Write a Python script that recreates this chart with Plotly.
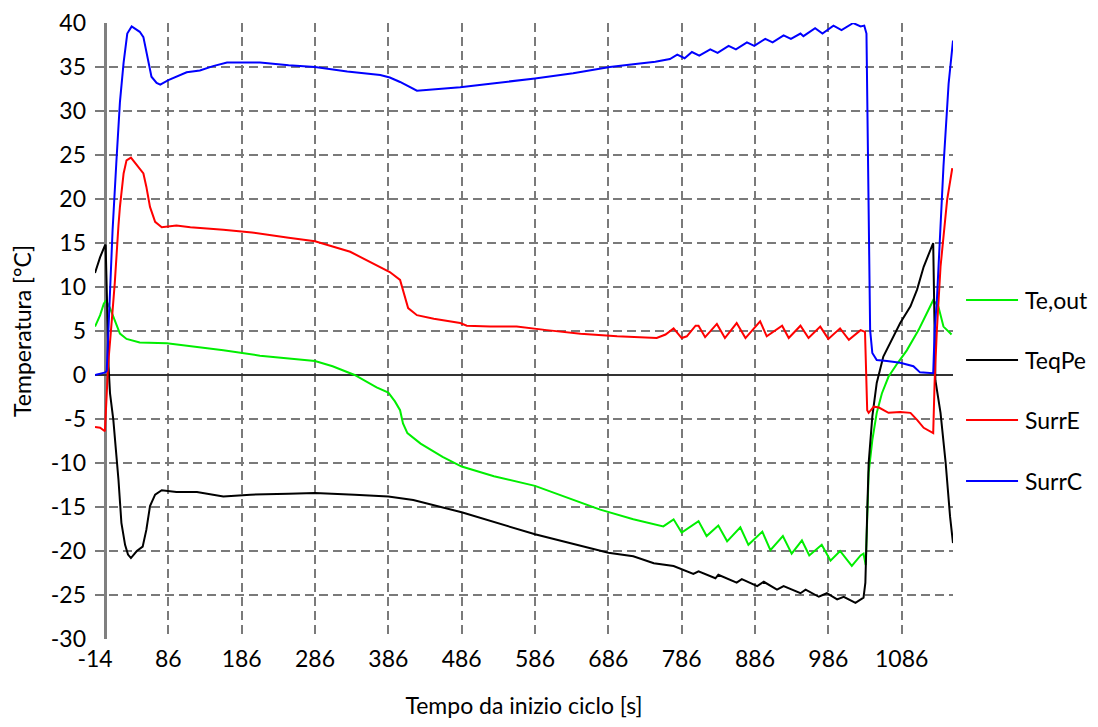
import plotly.graph_objects as go

# ---- data ----
t_surrc = [-14, -5, 0, 2, 4, 7, 10, 15, 20, 25, 30, 36, 47, 52, 58, 63, 70, 75, 86, 100, 111, 129, 147, 166, 211, 250, 286, 330, 375, 388, 402, 425, 443, 484, 525, 586, 638, 688, 720, 750, 770, 780, 790, 800, 810, 825, 835, 850, 860, 875, 885, 900, 910, 925, 935, 948, 952, 968, 978, 993, 1004, 1020, 1030, 1035, 1038, 1041, 1043, 1046, 1052, 1066, 1084, 1102, 1111, 1129, 1131, 1134, 1143, 1150, 1156]
v_surrc = [0.0, 0.2, 0.3, 0.5, 5, 11, 16.5, 24, 31, 35.5, 38.8, 39.6, 39.0, 38.4, 35.8, 33.9, 33.2, 33.0, 33.5, 34.0, 34.4, 34.6, 35.1, 35.5, 35.5, 35.2, 35.0, 34.5, 34.1, 33.8, 33.3, 32.3, 32.4, 32.7, 33.1, 33.7, 34.3, 35.0, 35.3, 35.6, 35.9, 36.4, 36.0, 36.7, 36.3, 37.0, 36.6, 37.4, 37.0, 37.8, 37.4, 38.2, 37.8, 38.6, 38.2, 38.8, 38.5, 39.4, 38.8, 39.7, 39.2, 40.0, 39.6, 39.7, 38.8, 19.9, 5.1, 2.5, 1.7, 1.6, 1.4, 1.0, 0.3, 0.2, 5.1, 8.5, 23.7, 33.1, 38.0]

t_surre = [-14, -7, -0.5, 0.5, 2, 4, 9, 13, 18, 20, 25, 29, 35, 43, 52, 56, 61, 68, 77, 97, 116, 161, 200, 250, 286, 334, 375, 388, 402, 407, 413, 425, 448, 484, 493, 525, 561, 602, 648, 698, 752, 764, 775, 786, 793, 805, 809, 818, 834, 845, 861, 873, 893, 902, 923, 932, 948, 959, 975, 986, 1002, 1014, 1030, 1036, 1039, 1041, 1048, 1055, 1068, 1084, 1098, 1107, 1116, 1129, 1131, 1134, 1139, 1148, 1155]
v_surre = [-5.9, -6.0, -6.4, -4.5, -1.5, 1.3, 6.3, 10.5, 17.0, 19.1, 22.9, 24.4, 24.7, 23.8, 22.9, 21.4, 19.1, 17.4, 16.8, 17.0, 16.8, 16.5, 16.2, 15.6, 15.2, 14.0, 12.2, 11.7, 10.8, 9.3, 7.6, 6.8, 6.4, 5.9, 5.6, 5.5, 5.5, 5.1, 4.7, 4.4, 4.2, 4.6, 5.3, 4.2, 4.4, 5.6, 5.6, 4.3, 5.8, 4.2, 5.9, 4.2, 6.1, 4.4, 5.6, 4.2, 5.6, 4.2, 5.5, 4.1, 5.3, 4.0, 5.1, 4.9, -4.0, -4.3, -3.6, -3.7, -4.3, -4.2, -4.3, -5.1, -6.0, -6.6, -0.6, 5.1, 12.3, 19.9, 23.5]

t_teout = [-14, -7, -2, 1, 6.5, 13, 20, 29, 47, 84, 116, 161, 211, 250, 286, 310, 340, 370, 386, 395, 402, 406, 412, 430, 460, 486, 530, 586, 630, 675, 720, 748, 761, 775, 786, 809, 820, 836, 848, 866, 877, 896, 907, 924, 936, 950, 960, 977, 989, 1002, 1018, 1030, 1034, 1037, 1039, 1041, 1046, 1052, 1059, 1068, 1080, 1093, 1109, 1120, 1129, 1136, 1143, 1154]
v_teout = [5.5, 6.8, 8.1, 8.5, 7.6, 6.3, 4.7, 4.1, 3.7, 3.6, 3.3, 2.8, 2.2, 1.9, 1.6, 1.0, 0.0, -1.4, -2.0, -3.0, -4.0, -5.5, -6.6, -7.8, -9.3, -10.4, -11.5, -12.6, -13.9, -15.3, -16.4, -17.0, -17.2, -16.4, -17.9, -16.6, -18.3, -17.1, -18.9, -17.3, -19.3, -17.8, -19.9, -18.3, -20.3, -18.8, -20.5, -19.3, -21.1, -20.0, -21.7, -20.5, -20.3, -21.6, -16.1, -11.1, -7.4, -4.3, -2.1, -0.2, 1.3, 2.8, 5.1, 7.0, 8.5, 7.8, 5.5, 4.6]

t_teqpe = [-14, -7, -0.5, 0.5, 3, 4.5, 6.5, 11, 14.5, 18, 22, 27, 31, 35, 43, 51, 56, 61, 68, 77, 97, 125, 161, 198, 250, 286, 340, 386, 420, 486, 586, 686, 720, 748, 775, 802, 809, 832, 836, 861, 868, 889, 898, 916, 925, 948, 955, 973, 984, 998, 1007, 1023, 1034, 1036.5, 1039, 1041, 1046, 1052, 1061, 1073, 1080, 1084, 1098, 1107, 1116, 1129, 1132, 1139, 1146, 1152, 1156]
v_teqpe = [11.6, 13.4, 14.7, 14.8, 6.3, 1.0, -2.1, -5.1, -8.5, -11.9, -16.8, -19.3, -20.4, -20.8, -20.0, -19.5, -17.6, -14.9, -13.6, -13.1, -13.3, -13.3, -13.8, -13.6, -13.5, -13.4, -13.6, -13.8, -14.2, -15.6, -18.1, -20.2, -20.6, -21.4, -21.7, -22.6, -22.3, -23.1, -22.7, -23.6, -23.2, -24.0, -23.5, -24.4, -24.0, -24.8, -24.4, -25.2, -24.8, -25.5, -25.2, -25.9, -25.3, -23.6, -15.7, -10.0, -4.7, -0.9, 2.1, 4.0, 5.1, 5.9, 7.8, 9.7, 12.3, 15.0, -0.6, -4.3, -10.0, -16.1, -19.1]

series_names = ["Te,out", "TeqPe", "SurrE", "SurrC"]
series_t = [t_teout, t_teqpe, t_surre, t_surrc]
series_v = [v_teout, v_teqpe, v_surre, v_surrc]
series_colors = ["#00EE00", "#000000", "#FF0000", "#0000FF"]

x_ticks = [-14, 86, 186, 286, 386, 486, 586, 686, 786, 886, 986, 1086]
y_ticks = [40, 35, 30, 25, 20, 15, 10, 5, 0, -5, -10, -15, -20, -25, -30]

FONT = "Lato"

fig = go.Figure()
for name, tx, vy, col in zip(series_names, series_t, series_v, series_colors):
    fig.add_trace(go.Scatter(x=tx, y=vy, mode="lines", name=name,
                             showlegend=False,
                             line=dict(color=col, width=2)))

# legend drawn on the right, Excel style (long key lines, wide spacing)
legend_y = [0.5503, 0.4529, 0.3555, 0.2565]
for name, col, ly in zip(series_names, series_colors, legend_y):
    fig.add_shape(type="line", xref="paper", yref="paper",
                  x0=1.0152, x1=1.0758, y0=ly, y1=ly,
                  line=dict(color=col, width=2))
    fig.add_annotation(x=1.0816, y=ly, xref="paper", yref="paper",
                       text=name, showarrow=False, xanchor="left",
                       yanchor="middle", font=dict(size=23, color="#000000"))

fig.update_layout(
    width=1098, height=727,
    margin=dict(l=95, r=145, t=23, b=88),
    paper_bgcolor="white", plot_bgcolor="white",
    font=dict(family=FONT, size=23, color="#000000"),
    showlegend=False,
)

fig.update_xaxes(
    range=[-14, 1156], tickvals=x_ticks, ticktext=[str(v) for v in x_ticks],
    showgrid=True, gridcolor="#7a7a7a", gridwidth=1.5, griddash="9px,5px",
    zeroline=True, zerolinecolor="#808080", zerolinewidth=3,
    showline=False, ticks="", ticklabelstandoff=4, automargin=False,
    title=dict(text="Tempo da inizio ciclo [s]", standoff=26, font=dict(size=23)),
)
fig.update_yaxes(
    range=[-30, 40], tickvals=y_ticks, ticktext=[str(v) for v in y_ticks],
    showgrid=True, gridcolor="#7a7a7a", gridwidth=1.5, griddash="9px,5px",
    zeroline=True, zerolinecolor="#333333", zerolinewidth=2,
    showline=False, ticks="", ticklabelstandoff=8, automargin=False,
    title=dict(text="Temperatura [°C]", standoff=12, font=dict(size=23)),
)

fig.write_html("out.html")
